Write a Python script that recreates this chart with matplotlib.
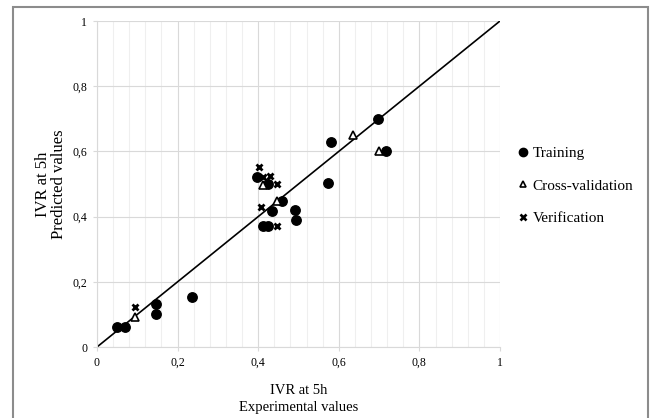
import matplotlib
matplotlib.use('Agg')
import matplotlib.pyplot as plt
from matplotlib.patches import Rectangle
from matplotlib.lines import Line2D
import numpy as np

plt.rcParams['font.family'] = ['Liberation Serif', 'DejaVu Serif']

# Training set (experimental, predicted)
train_x = [0.049, 0.069, 0.146, 0.146, 0.235, 0.396, 0.425, 0.458, 0.435,
           0.491, 0.495, 0.413, 0.425, 0.574, 0.581, 0.698, 0.717]
train_y = [0.062, 0.062, 0.131, 0.100, 0.152, 0.522, 0.500, 0.449, 0.418,
           0.420, 0.390, 0.371, 0.371, 0.502, 0.630, 0.698, 0.600]

# Cross-validation set
cv_x = [0.094, 0.413, 0.446, 0.634, 0.699]
cv_y = [0.091, 0.497, 0.449, 0.650, 0.600]

# Verification set
ver_x = [0.094, 0.403, 0.411, 0.429, 0.447, 0.406, 0.446]
ver_y = [0.124, 0.553, 0.522, 0.525, 0.500, 0.430, 0.371]

tick_labels = ['0', '0,2', '0,4', '0,6', '0,8', '1']
series_names = ['Training', 'Cross-validation', 'Verification']

fig = plt.figure(figsize=(6.55, 4.18), dpi=100)
ax = fig.add_axes([97 / 655, 1 - 347 / 418, 403 / 655, 326 / 418])

# outer frame
fig.patches.append(Rectangle((13 / 655, -0.05), 635 / 655, 1.05 - 7 / 418,
                             transform=fig.transFigure, fill=False,
                             edgecolor='#8c8c8c', linewidth=1.5))

ax.set_xlim(0, 1)
ax.set_ylim(0, 1)
ax.set_xticks(np.arange(0, 1.01, 0.2))
ax.set_yticks(np.arange(0, 1.01, 0.2))
ax.set_xticks(np.arange(0, 1.001, 0.04), minor=True)
ax.set_xticklabels(tick_labels)
ax.set_yticklabels(tick_labels)
ax.grid(which='major', color='#d9d9d9', linewidth=0.8)
ax.grid(which='minor', axis='x', color='#efefef', linewidth=0.8)
ax.set_axisbelow(True)
for s in ['top', 'right']:
    ax.spines[s].set_visible(False)
for s in ['left', 'bottom']:
    ax.spines[s].set_color('#d9d9d9')
ax.tick_params(which='major', length=3, color='#d9d9d9', labelsize=8.5, pad=4)
ax.tick_params(which='minor', length=0)

ax.plot([0, 1], [0, 1], color='black', linewidth=1.2, zorder=2)

ax.plot(train_x, train_y, 'o', color='black', markersize=6.8, zorder=3)
ax.plot(cv_x, cv_y, '^', markerfacecolor='white', markeredgecolor='black',
        markeredgewidth=1.2, markersize=6, zorder=3)
ax.plot(ver_x, ver_y, 'x', color='black', markeredgewidth=2.0,
        markersize=5, zorder=4)

ax.set_xlabel('IVR at 5h\nExperimental values', fontsize=10.5, labelpad=11,
              linespacing=1.35)
ax.set_ylabel('IVR at 5h\nPredicted values', fontsize=12, labelpad=4,
              linespacing=1.0)

handles = [
    Line2D([], [], marker='o', linestyle='none', color='black', markersize=6),
    Line2D([], [], marker='^', linestyle='none', markerfacecolor='white',
           markeredgecolor='black', markeredgewidth=1.2, markersize=5),
    Line2D([], [], marker='x', linestyle='none', color='black',
           markeredgewidth=1.9, markersize=4.5),
]
fig.legend(handles, series_names,
           loc='upper left', bbox_to_anchor=(502 / 655, 1 - 133 / 418),
           frameon=False, fontsize=11, handletextpad=0.1, labelspacing=1.22,
           handlelength=1.0)

fig.savefig('out.png', dpi=100)
